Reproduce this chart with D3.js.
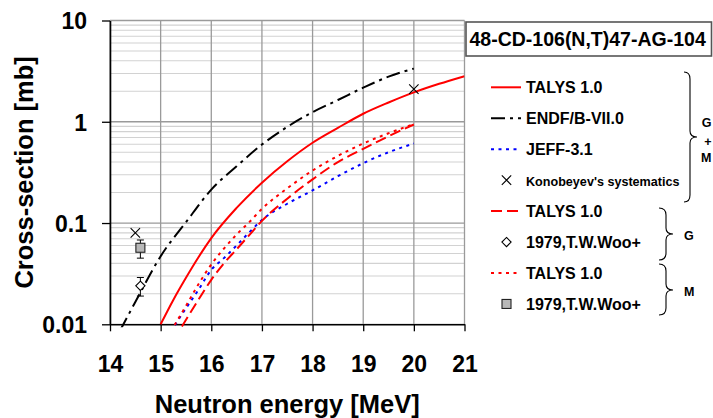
<!DOCTYPE html>
<html>
<head>
<meta charset="utf-8">
<script src="https://cdn.jsdelivr.net/npm/d3@7"></script>
<style>
  body { margin: 0; background: #fff; }
  svg text { font-family: "Liberation Sans", Arial, sans-serif; font-weight: bold; }
</style>
</head>
<body>
<svg id="chart" width="713" height="418"></svg>
<script>
// reaction shown in the box above the legend
const reaction = "48-CD-106(N,T)47-AG-104";

// each series is a list of [neutron energy (MeV), cross-section (mb)]
const talysGM = [[15, 0.0100], [15.25, 0.0174], [15.5, 0.0288], [15.75, 0.0462], [16, 0.071],
    [16.5, 0.141], [17, 0.25], [17.5, 0.407], [18, 0.62], [18.5, 0.87], [19, 1.2],
    [19.5, 1.55], [20, 1.95], [20.5, 2.37], [21, 2.82]];
const endf = [[14.2, 0.0087], [14.5, 0.0166], [15, 0.047], [15.5, 0.102], [16, 0.214],
    [16.5, 0.363], [17, 0.596], [17.5, 0.89], [18, 1.245], [18.5, 1.64], [19, 2.17],
    [19.5, 2.79], [20, 3.35]];
const jeff = [[15.2, 0.0085], [15.5, 0.0144], [15.75, 0.022], [16, 0.0345], [16.25, 0.045],
    [16.5, 0.06], [16.75, 0.081], [17, 0.107], [17.5, 0.155], [18, 0.21], [18.5, 0.29],
    [19, 0.39], [19.5, 0.50], [20, 0.61]];
const talysG = [[15.42, 0.0095], [15.75, 0.0176], [16, 0.0275], [16.25, 0.040], [16.5, 0.055],
    [16.75, 0.076], [17, 0.105], [17.5, 0.174], [18, 0.27], [18.5, 0.40], [19, 0.54],
    [19.5, 0.72], [20, 0.94]];
const talysM = [[15.2, 0.0085], [15.5, 0.0152], [15.75, 0.025], [16, 0.039], [16.25, 0.056],
    [16.5, 0.077], [16.75, 0.102], [17, 0.138], [17.5, 0.22], [18, 0.33], [18.5, 0.46],
    [19, 0.61], [19.5, 0.77], [20, 0.95]];

// systematics and measurements: [energy, value, low, high]
const konobeyev = [[14.5, 0.08], [20, 2.1]];
const wooG = [[14.6, 0.024, 0.019, 0.029]];
const wooM = [[14.6, 0.057, 0.045, 0.068]];

const xTicks = [14, 15, 16, 17, 18, 19, 20, 21];
const yTicks = [0.01, 0.1, 1, 10];
const legendLabels = ["TALYS 1.0", "ENDF/B-VII.0", "JEFF-3.1", "Konobeyev's systematics",
    "TALYS 1.0", "1979,T.W.Woo+", "TALYS 1.0", "1979,T.W.Woo+"];
const xLabel = "Neutron energy [MeV]";
const yLabel = "Cross-section [mb]";

let svg = d3.select("#chart");
let plotLeft = 110, plotRight = 464.5, plotTop = 20.5, plotBottom = 324.3;

let x = d3.scaleLinear().domain([14, 21]).range([plotLeft, plotRight]);
let y = d3.scaleLog().domain([0.01, 10]).range([plotBottom, plotTop]);

// grid: minor decades first, then majors on top
let grid = svg.append("g");
let minor = [];
[0.01, 0.1, 1].forEach(function(d) { for (let k = 2; k <= 9; k++) minor.push(d * k); });
grid.selectAll("line.minor").data(minor).enter().append("line")
    .attr("x1", plotLeft).attr("x2", plotRight)
    .attr("y1", d => y(d)).attr("y2", d => y(d))
    .attr("stroke", "#d2d2d2").attr("stroke-width", 1.1);
grid.selectAll("line.major").data(yTicks).enter().append("line")
    .attr("x1", plotLeft).attr("x2", plotRight)
    .attr("y1", d => y(d)).attr("y2", d => y(d))
    .attr("stroke", "#9a9a9a").attr("stroke-width", 1.3);
grid.selectAll("line.vert").data(xTicks).enter().append("line")
    .attr("x1", d => x(d)).attr("x2", d => x(d))
    .attr("y1", plotTop).attr("y2", plotBottom)
    .attr("stroke", "#9a9a9a").attr("stroke-width", 1.3);

// axes
let yAxis = svg.append("g")
    .attr("transform", `translate(${plotLeft},0)`)
    .call(d3.axisLeft(y).tickValues(yTicks).tickFormat(d3.format("~g"))
        .tickSize(8).tickSizeOuter(0).tickPadding(15));
let xAxis = svg.append("g")
    .attr("transform", `translate(0,${plotBottom})`)
    .call(d3.axisBottom(x).tickValues(xTicks).tickFormat(d3.format("d"))
        .tickSize(7).tickSizeOuter(0).tickPadding(24));
[xAxis, yAxis].forEach(function(a) {
    a.attr("font-size", null).attr("font-family", null);
    a.select(".domain").attr("stroke", "#000").attr("stroke-width", 1.6);
    a.selectAll(".tick line").attr("stroke", "#000").attr("stroke-width", 1.3);
    a.selectAll(".tick text").attr("font-size", "23px").attr("fill", "#000");
});
yAxis.selectAll(".tick text").attr("dy", "0.36em");

svg.append("text").text(xLabel)
    .attr("x", (plotLeft + plotRight) / 2).attr("y", 413)
    .attr("text-anchor", "middle").attr("font-size", "25.5px");
svg.append("text").text(yLabel)
    .attr("transform", `translate(32.5,${(plotTop + plotBottom) / 2}) rotate(-90)`)
    .attr("text-anchor", "middle").attr("font-size", "25.5px");

// curves, clipped to the frame (a little slack below like the original)
svg.append("clipPath").attr("id", "plotClip").append("rect")
    .attr("x", plotLeft).attr("y", plotTop)
    .attr("width", plotRight - plotLeft).attr("height", plotBottom - plotTop + 3);
let body = svg.append("g").attr("clip-path", "url(#plotClip)");
let line = d3.line().x(d => x(d[0])).y(d => y(d[1])).curve(d3.curveMonotoneX);

let styles = {
    solid:   { stroke: "#ff0000", dash: null },
    dashdot: { stroke: "#000000", dash: "14,5,3,5" },
    dotBlue: { stroke: "#0000ff", dash: "3,4.5" },
    dashed:  { stroke: "#ff0000", dash: "11,5" },
    dotRed:  { stroke: "#ff0000", dash: "3,4.5" }
};
let series = [[endf, "dashdot"], [jeff, "dotBlue"], [talysG, "dashed"], [talysM, "dotRed"], [talysGM, "solid"]];
series.forEach(function(s) {
    body.append("path").datum(s[0])
        .attr("d", line)
        .attr("fill", "none")
        .attr("stroke", styles[s[1]].stroke)
        .attr("stroke-width", 2)
        .attr("stroke-dasharray", styles[s[1]].dash);
});

// markers
function cross(g, cx, cy) {
    g.append("path")
        .attr("d", `M${cx - 4.7},${cy - 4.7}L${cx + 4.7},${cy + 4.7}M${cx - 4.7},${cy + 4.7}L${cx + 4.7},${cy - 4.7}`)
        .attr("stroke", "#000").attr("stroke-width", 1.1).attr("fill", "none");
}
function diamond(g, cx, cy) {
    g.append("path")
        .attr("d", `M${cx},${cy - 4.6}L${cx + 4.6},${cy}L${cx},${cy + 4.6}L${cx - 4.6},${cy}Z`)
        .attr("stroke", "#000").attr("stroke-width", 1.1).attr("fill", "#fff");
}
function square(g, cx, cy) {
    g.append("rect")
        .attr("x", cx - 4.5).attr("y", cy - 4.5).attr("width", 9).attr("height", 9)
        .attr("stroke", "#222").attr("stroke-width", 1.1).attr("fill", "#b8b8b8");
}
function errorBar(g, d) {
    let cx = x(d[0]);
    let path = `M${cx},${y(d[2])}L${cx},${y(d[3])}` +
        `M${cx - 3.5},${y(d[2])}L${cx + 3.5},${y(d[2])}` +
        `M${cx - 3.5},${y(d[3])}L${cx + 3.5},${y(d[3])}`;
    g.append("path").attr("d", path).attr("stroke", "#000").attr("stroke-width", 1).attr("fill", "none");
}
let points = svg.append("g");
konobeyev.forEach(d => cross(points, x(d[0]), y(d[1])));
wooG.forEach(function(d) { errorBar(points, d); diamond(points, x(d[0]), y(d[1])); });
wooM.forEach(function(d) { errorBar(points, d); square(points, x(d[0]), y(d[1])); });

// reaction title box
svg.append("rect")
    .attr("x", 466).attr("y", 22).attr("width", 245.5).attr("height", 34)
    .attr("fill", "#fff").attr("stroke", "#555").attr("stroke-width", 1.6);
svg.append("text").text(reaction)
    .attr("x", 469.5).attr("y", 45.7).attr("font-size", "19.5px");

// legend
let legend = svg.append("g");
let kinds = ["solid", "dashdot", "dotBlue", "cross", "dashed", "diamond", "dotRed", "square"];
legendLabels.forEach(function(label, i) {
    let base = 93.3 + i * 30.95;
    let mid = base - 6;
    let kind = kinds[i];
    if (styles[kind]) {
        legend.append("line")
            .attr("x1", 491).attr("x2", 521).attr("y1", mid).attr("y2", mid)
            .attr("stroke", styles[kind].stroke).attr("stroke-width", 2)
            .attr("stroke-dasharray", styles[kind].dash);
    } else if (kind === "cross") {
        cross(legend, 506.5, mid);
    } else if (kind === "diamond") {
        diamond(legend, 506.5, mid);
    } else {
        square(legend, 506.5, mid);
    }
    legend.append("text").text(label)
        .attr("x", 526).attr("y", base)
        .attr("font-size", kind === "cross" ? "12.6px" : "16px");
});

// curly braces grouping the legend entries
function brace(x0, y0, y1, ym, xv, xt) {
    return `M${x0},${y0}Q${xv},${y0} ${xv},${y0 + 7}L${xv},${ym - 6}Q${xv},${ym} ${xt},${ym}` +
        `Q${xv},${ym} ${xv},${ym + 6}L${xv},${y1 - 7}Q${xv},${y1} ${x0},${y1}`;
}
let braces = [[684, 72, 202, 137, 690, 697], [659, 208, 260, 234, 666, 673], [659, 264, 315, 290, 666, 673]];
braces.forEach(function(b) {
    legend.append("path").attr("d", brace(...b))
        .attr("fill", "none").attr("stroke", "#000").attr("stroke-width", 1.1);
});
[["G", 706, 127], ["+", 706, 146], ["M", 706, 162], ["G", 684, 240], ["M", 684, 296]].forEach(function(t) {
    legend.append("text").text(t[0]).attr("y", t[2]).attr("font-size", "12.5px")
        .attr("x", t[1] > 700 ? 711.5 : t[1])
        .attr("text-anchor", t[1] > 700 ? "end" : "start");
});
</script>
</body>
</html>
